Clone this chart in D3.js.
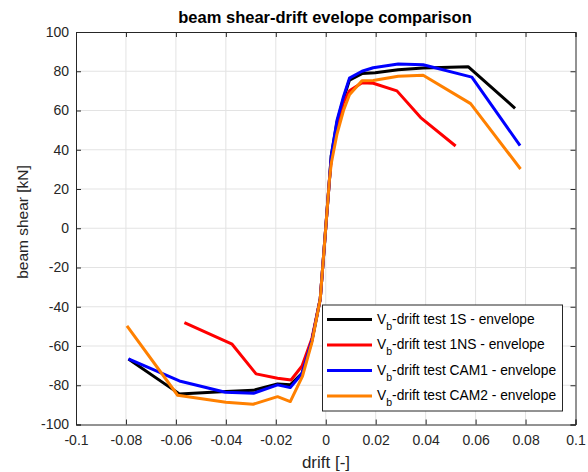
<!DOCTYPE html>
<html>
<head>
<meta charset="utf-8">
<script src="https://cdn.jsdelivr.net/npm/d3@7"></script>
<style>
  body { margin: 0; background: #fff; }
  svg text { font-family: "Liberation Sans", Arial, sans-serif; }
</style>
</head>
<body>
<svg id="chart" width="588" height="472"></svg>
<script>
// envelope data: [drift, shear kN]
var test1S = [[-0.079,-66.6],[-0.0586,-84.4],[-0.040,-83.2],[-0.029,-82.6],[-0.0193,-79.3],[-0.0142,-79.8],
  [-0.0095,-73.9],[-0.0055,-57],[-0.0022,-36],[0.0015,25],[0.0022,37],[0.0045,54],[0.0071,66],[0.0095,75.5],
  [0.0145,78.8],[0.0198,79.2],[0.029,80.8],[0.039,81.6],[0.057,82.3],[0.0758,61.1]];
var test1NS = [[-0.0566,-48.1],[-0.0375,-59.1],[-0.0279,-74.2],[-0.0193,-76.4],[-0.0139,-77.3],[-0.0095,-70.2],
  [-0.0055,-56],[-0.0022,-36],[0.0015,25],[0.0022,35],[0.0045,52],[0.0071,64],[0.0095,70],[0.0145,74.2],
  [0.019,73.9],[0.0285,70.0],[0.038,56.4],[0.052,41.9]];
var testCAM1 = [[-0.079,-66.6],[-0.0586,-77.8],[-0.0402,-83.6],[-0.0289,-84.1],[-0.0193,-79.8],[-0.0142,-81.2],
  [-0.0095,-74],[-0.0055,-57],[-0.0022,-36],[0.0015,25],[0.0022,37],[0.0045,55],[0.0071,67],[0.0095,76.5],
  [0.0145,80],[0.019,81.8],[0.029,83.7],[0.039,83.3],[0.0585,77.0],[0.0778,42.1]];
var testCAM2 = [[-0.0796,-49.8],[-0.0593,-85.1],[-0.040,-88.7],[-0.0291,-89.7],[-0.0193,-85.8],[-0.0142,-88.3],
  [-0.0093,-75.3],[-0.0055,-58],[-0.0022,-36],[0.0015,25],[0.0022,33],[0.0045,48],[0.0071,60],[0.0095,68],
  [0.0145,75.2],[0.019,75.3],[0.029,77.4],[0.039,78.0],[0.058,63.5],[0.078,30.2]];

var seriesNames = ["test 1S", "test 1NS", "test CAM1", "test CAM2"];
var seriesColors = ["#000000", "#ff0000", "#0000ff", "#ff8000"];
var seriesData = [test1S, test1NS, testCAM1, testCAM2];

var xTicks = [-0.1,-0.08,-0.06,-0.04,-0.02,0,0.02,0.04,0.06,0.08,0.1];
var yTicks = [-100,-80,-60,-40,-20,0,20,40,60,80,100];

(function() {
  var svg = d3.select("#chart");
  var pl = 76, pr = 575.5, pt = 32, pb = 424.5;   // plot box

  var x = d3.scaleLinear().domain([-0.1, 0.1]).range([pl, pr]);
  var y = d3.scaleLinear().domain([-100, 100]).range([pb, pt]);

  // grid
  svg.append("g").selectAll("line").data(xTicks.slice(1, -1)).enter().append("line")
    .attr("x1", d => x(d)).attr("x2", d => x(d)).attr("y1", pt).attr("y2", pb)
    .attr("stroke", "#e3e3e3").attr("stroke-width", 1);
  svg.append("g").selectAll("line").data(yTicks.slice(1, -1)).enter().append("line")
    .attr("y1", d => y(d)).attr("y2", d => y(d)).attr("x1", pl).attr("x2", pr)
    .attr("stroke", "#e3e3e3").attr("stroke-width", 1);

  // axes, matlab style ticks pointing inward
  var fmt = d => String(d);
  var xAxis = svg.append("g").attr("transform", "translate(0," + pb + ")")
    .call(d3.axisBottom(x).tickValues(xTicks).tickSize(-5).tickPadding(11).tickFormat(fmt));
  var xTop = svg.append("g").attr("transform", "translate(0," + pt + ")")
    .call(d3.axisTop(x).tickValues(xTicks).tickSize(-5).tickFormat(""));
  var yAxis = svg.append("g").attr("transform", "translate(" + pl + ",0)")
    .call(d3.axisLeft(y).tickValues(yTicks).tickSize(-5).tickPadding(7).tickFormat(fmt));
  var yRight = svg.append("g").attr("transform", "translate(" + pr + ",0)")
    .call(d3.axisRight(y).tickValues(yTicks).tickSize(-5).tickFormat(""));

  [xAxis, xTop, yAxis, yRight].forEach(function(a) {
    a.selectAll("path").attr("stroke", "#262626");
    a.selectAll("line").attr("stroke", "#262626");
    a.selectAll("text").attr("fill", "#262626").style("font-size", "14px")
      .style("font-family", "'Liberation Sans', Arial, sans-serif");
  });

  // lines
  var line = d3.line().x(d => x(d[0])).y(d => y(d[1]));
  svg.append("g").selectAll("path").data(seriesData).enter().append("path")
    .attr("d", line)
    .attr("fill", "none")
    .attr("stroke", (d, i) => seriesColors[i])
    .attr("stroke-width", 3)
    .attr("stroke-linejoin", "round");

  // title and labels
  svg.append("text").attr("x", 325).attr("y", 23).attr("text-anchor", "middle")
    .style("font-size", "16.5px").style("font-weight", "bold").attr("fill", "#000")
    .text("beam shear-drift evelope comparison");
  svg.append("text").attr("x", 326).attr("y", 468).attr("text-anchor", "middle")
    .style("font-size", "17px").attr("fill", "#262626").text("drift [-]");
  svg.append("text").attr("transform", "translate(28,222) rotate(-90)").attr("text-anchor", "middle")
    .style("font-size", "15.5px").attr("fill", "#262626").text("beam shear [kN]");

  // legend
  var lg = svg.append("g");
  lg.append("rect").attr("x", 322.5).attr("y", 305).attr("width", 240).attr("height", 106)
    .attr("fill", "#fff").attr("stroke", "#262626").attr("stroke-width", 1);
  var rows = lg.selectAll("g.row").data(seriesNames).enter().append("g")
    .attr("transform", (d, i) => "translate(0," + (319.5 + i * 25.5) + ")");
  rows.append("line").attr("x1", 327).attr("x2", 372).attr("y1", 0).attr("y2", 0)
    .attr("stroke", (d, i) => seriesColors[i]).attr("stroke-width", 3);
  var t = rows.append("text").attr("x", 377).attr("y", 4).style("font-size", "13.8px").attr("fill", "#000");
  t.append("tspan").text("V");
  t.append("tspan").attr("dy", 6).style("font-size", "10.5px").text("b");
  t.append("tspan").attr("dy", -6).text(d => "-drift " + d + " - envelope");
})();
</script>
</body>
</html>
